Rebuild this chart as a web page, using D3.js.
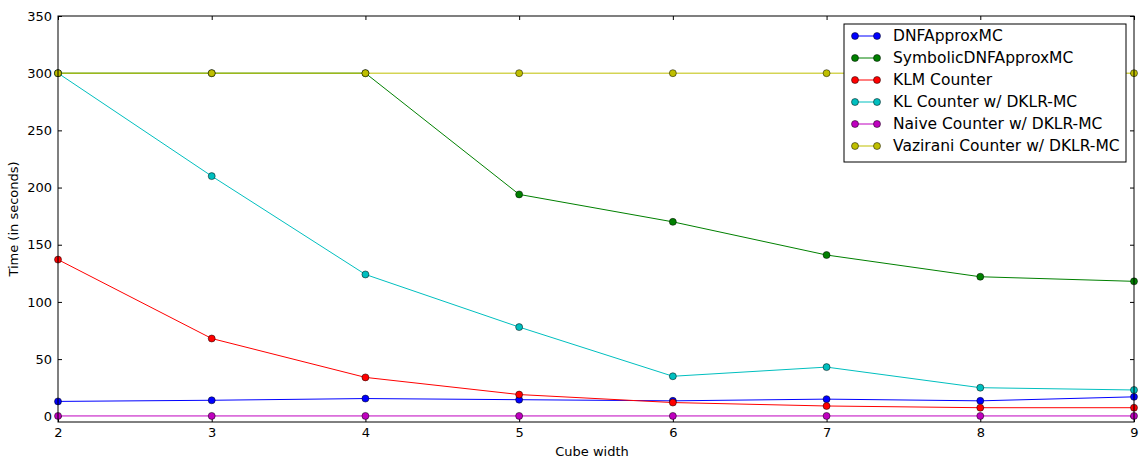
<!DOCTYPE html>
<html>
<head>
<meta charset="utf-8">
<script src="https://cdn.jsdelivr.net/npm/d3@7"></script>
<style>
  body { margin: 0; background: #fff; }
  text { font-family: "DejaVu Sans", sans-serif; }
</style>
</head>
<body>
<div id="chart"></div>
<script>
// data
var cubeWidths = [2, 3, 4, 5, 6, 7, 8, 9];
var seriesNames = ['DNFApproxMC', 'SymbolicDNFApproxMC', 'KLM Counter',
    'KL Counter w/ DKLR-MC', 'Naive Counter w/ DKLR-MC', 'Vazirani Counter w/ DKLR-MC'];
var dnfApprox = [13, 14, 15.5, 14.5, 13.5, 15, 13.5, 17];
var symbolicDnf = [300, 300, 300, 194, 170, 141, 122, 118];
var klmCounter = [137, 68, 34, 19, 12, 9, 7.5, 7.5];
var klCounter = [300, 210, 124, 78, 35, 43, 25, 23];
var naiveCounter = [0.3, 0.3, 0.3, 0.3, 0.3, 0.3, 0.3, 0.3];
var vaziraniCounter = [300, 300, 300, 300, 300, 300, 300, 300];
var yTicks = [0, 50, 100, 150, 200, 250, 300, 350];

var colors = ['#0000ff', '#008000', '#ff0000', '#00bfbf', '#bf00bf', '#bfbf00'];
var allValues = [dnfApprox, symbolicDnf, klmCounter, klCounter, naiveCounter, vaziraniCounter];

var margin = {top: 16, bottom: 39, right: 10, left: 58};
var w = 1144 - margin.left - margin.right;
var h = 461 - margin.top - margin.bottom;

var svg = d3.select('#chart')
    .append('svg')
    .attr('width', 1144)
    .attr('height', 461)
    .append('g')
    .attr('transform', 'translate(' + margin.left + ',' + margin.top + ')');

var x = d3.scaleLinear().domain([2, 9]).range([0, w]);
var y = d3.scaleLinear().domain([-5, 350]).range([h, 0]);

// axes, ticks pointing inward on all four sides
svg.append('g')
    .attr('transform', 'translate(0,' + h + ')')
    .call(d3.axisBottom(x).tickValues(cubeWidths).tickFormat(d3.format('d')).tickSizeInner(-4).tickSizeOuter(0).tickPadding(6));
svg.append('g')
    .call(d3.axisTop(x).tickValues(cubeWidths).tickFormat('').tickSizeInner(-4).tickSizeOuter(0));
svg.append('g')
    .call(d3.axisLeft(y).tickValues(yTicks).tickSizeInner(-4).tickSizeOuter(0).tickPadding(6));
svg.append('g')
    .attr('transform', 'translate(' + w + ',0)')
    .call(d3.axisRight(y).tickValues(yTicks).tickFormat('').tickSizeInner(-4).tickSizeOuter(0));

svg.selectAll('.domain').remove();
svg.selectAll('.tick line').attr('stroke', '#000');
svg.selectAll('.tick text').attr('font-size', 13).attr('fill', '#000');

// series
var line = d3.line()
    .x(function(d, i) { return x(cubeWidths[i]); })
    .y(function(d) { return y(d); });

allValues.forEach(function(vals, k) {
    svg.append('path')
        .datum(vals)
        .attr('fill', 'none')
        .attr('stroke', colors[k])
        .attr('stroke-width', 1)
        .attr('d', line);
});
allValues.forEach(function(vals, k) {
    svg.selectAll('.pt' + k)
        .data(vals)
        .enter()
        .append('circle')
        .attr('cx', function(d, i) { return x(cubeWidths[i]); })
        .attr('cy', function(d) { return y(d); })
        .attr('r', 3.5)
        .attr('fill', colors[k])
        .attr('stroke', '#000')
        .attr('stroke-width', 0.5);
});

// frame
svg.append('rect')
    .attr('width', w).attr('height', h)
    .attr('fill', 'none').attr('stroke', '#000').attr('stroke-width', 1);

// axis labels
svg.append('text')
    .attr('x', w / 2 - 4).attr('y', h + 34)
    .attr('text-anchor', 'middle')
    .attr('font-size', 13)
    .text('Cube width');
svg.append('text')
    .attr('transform', 'translate(' + (-40) + ',' + (h / 2) + ')rotate(-90)')
    .attr('text-anchor', 'middle')
    .attr('font-size', 13)
    .text('Time (in seconds)');

// legend
var lg = svg.append('g').attr('transform', 'translate(' + (844 - margin.left) + ',' + (24 - margin.top) + ')');
lg.append('rect')
    .attr('width', 282).attr('height', 138)
    .attr('fill', '#fff').attr('stroke', '#000').attr('stroke-width', 1);
seriesNames.forEach(function(name, k) {
    var yy = 12 + k * 22;
    lg.append('line')
        .attr('x1', 11).attr('x2', 33).attr('y1', yy).attr('y2', yy)
        .attr('stroke', colors[k]).attr('stroke-width', 1);
    [11, 33].forEach(function(cx) {
        lg.append('circle')
            .attr('cx', cx).attr('cy', yy).attr('r', 3.5)
            .attr('fill', colors[k]).attr('stroke', '#000').attr('stroke-width', 0.5);
    });
    lg.append('text')
        .attr('x', 49).attr('y', yy + 5)
        .attr('font-size', 15.5)
        .text(name);
});
</script>
</body>
</html>
